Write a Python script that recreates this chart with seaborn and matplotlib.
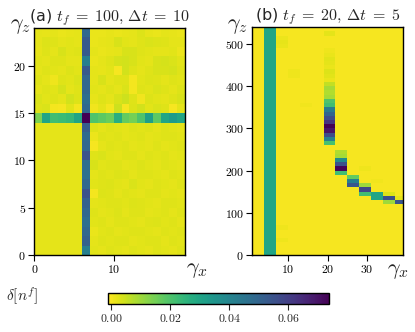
"""Density deviation maps for two quench protocols, shared colour bar."""
import matplotlib
matplotlib.use("Agg")
import matplotlib.pyplot as plt
import numpy as np
import seaborn as sns

sns.set_style("ticks")
plt.rcParams.update({
    "font.family": ["DejaVu Sans"],
    "mathtext.fontset": "cm",
    "axes.edgecolor": "black",
})

VMIN, VMAX = -0.001, 0.074

# panel (a): cells gamma_x = 0..18, gamma_z = 0..23, values in 1e-3, top row first
A_ROWS_TOP_FIRST = [
    [2.0, 1.8, 2.2, 1.6, 1.8, 2.0, 49, 1.6, 1.4, 1.8, 1.6, 1.8, 2.2, 3.0, 1.8, 1.6, 2.0, 1.8, 1.6],
    [2.2, 3.0, 2.6, 2.0, 2.4, 2.0, 53, 1.6, 1.8, 2.2, 3.4, 2.4, 2.0, 2.6, 3.2, 3.0, 2.8, 2.0, 2.2],
    [1.8, 2.6, 2.2, 3.6, 2.4, 2.6, 53, 2.0, 1.4, 1.8, 2.2, 3.4, 3.6, 2.6, 2.4, 2.2, 2.0, 2.4, 1.2],
    [2.4, 2.2, 2.8, 2.6, 2.0, 2.2, 42, 1.6, 2.0, 2.6, 3.8, 4.2, 3.6, 2.4, 2.0, 3.4, 3.8, 3.2, 2.4],
    [2.0, 2.6, 2.4, 2.2, 3.0, 2.4, 53, 2.2, 1.8, 2.4, 0.0, 4.0, 2.6, 2.2, 2.8, 3.6, 3.4, 3.8, 2.6],
    [2.6, 2.2, 1.0, 2.6, 2.4, 3.2, 49, 2.0, 3.4, 2.2, 2.6, 2.8, 0.2, 2.4, 3.0, 2.6, 2.2, 2.8, 2.4],
    [2.2, 2.8, 2.4, 3.8, 2.2, 2.6, 49, 2.4, 2.0, 2.6, 2.2, 3.2, 0.4, 2.6, 2.4, 3.2, 2.6, 2.2, 3.0],
    [3.2, 2.4, 2.8, 2.2, 4.2, 3.0, 47, 1.8, 2.6, 2.2, 3.6, 4.8, 2.8, 0.6, 3.0, 2.4, 2.0, 2.8, 3.6],
    [2.6, 3.2, 0.2, 0.0, 2.4, 0.4, 49, 0.6, 2.2, 0.2, 4.6, 0.0, 3.0, 4.0, 2.4, 3.2, 2.6, 0.0, 2.2],
    [14, 30, 22, 23, 24, 30, 74, 20, 18, 16, 27, 17, 15, 20, 32, 18, 30, 33, 30],
    [2.2, 2.2, 2.2, 2.2, 2.2, 2.2, 52, 2.6, 2.2, 2.8, 2.4, 2.2, 2.6, 2.4, 2.8, 2.2, 2.6, 2.4, 2.2],
    [2.2, 2.2, 2.2, 2.2, 2.2, 2.2, 48, 1.2, 2.6, 2.4, 2.8, 2.2, 2.4, 2.6, 2.2, 2.4, 2.8, 2.6, 2.4],
    [2.2, 2.2, 2.2, 2.2, 2.2, 2.2, 49, 0.0, 2.2, 2.6, 2.4, 2.8, 2.2, 2.4, 2.2, 2.6, 2.2, 2.4, 2.6],
    [2.2, 2.2, 2.2, 2.2, 2.2, 2.2, 55, 2.6, 3.2, 2.4, 2.2, 2.6, 2.8, 2.2, 2.6, 2.4, 2.8, 2.2, 2.4],
    [2.2, 2.2, 2.2, 2.2, 2.2, 2.2, 47, 3.4, 2.4, 2.8, 2.6, 2.2, 2.4, 3.0, 2.4, 2.2, 2.6, 2.4, 2.2],
    [2.2, 2.2, 2.2, 2.2, 2.2, 2.2, 46, 2.2, 2.8, 2.4, 3.0, 2.6, 2.2, 2.6, 2.8, 2.4, 2.2, 2.8, 2.4],
    [2.2, 2.2, 2.2, 2.2, 2.2, 2.2, 49, 2.4, 2.6, 3.0, 2.4, 2.2, 3.2, 2.4, 2.2, 2.6, 2.4, 2.2, 2.6],
    [2.2, 2.2, 2.2, 2.2, 2.2, 2.2, 55, 0.2, 3.0, 2.6, 2.2, 2.8, 2.4, 2.2, 2.6, 2.8, 2.2, 2.4, 2.2],
    [2.2, 2.2, 2.2, 2.2, 2.2, 2.2, 51, 2.2, 2.4, 2.8, 2.6, 2.4, 3.0, 2.6, 2.4, 2.2, 2.6, 2.8, 2.4],
    [2.2, 2.2, 2.2, 2.2, 2.2, 2.2, 49, 2.6, 2.2, 2.4, 3.0, 2.2, 2.6, 2.8, 2.2, 2.4, 2.8, 2.2, 2.6],
    [2.2, 2.2, 2.2, 2.2, 2.2, 2.2, 47, 2.4, 2.8, 2.2, 2.6, 2.8, 2.4, 2.2, 2.6, 3.0, 2.4, 2.6, 2.2],
    [2.2, 2.2, 2.2, 2.2, 2.2, 2.2, 49, 1.6, 2.4, 2.6, 2.2, 2.4, 2.8, 2.6, 2.4, 2.2, 2.6, 2.4, 2.8],
    [2.2, 2.2, 2.2, 2.2, 2.2, 2.2, 51, 2.2, 2.6, 2.4, 2.8, 2.6, 2.2, 2.4, 2.8, 2.6, 2.2, 2.8, 2.4],
    [2.2, 2.2, 2.2, 2.2, 2.2, 2.2, 42, 2.4, 2.2, 2.8, 2.4, 2.2, 2.6, 2.4, 2.2, 2.8, 2.4, 2.2, 2.6],
]
A_XTICKS = [0, 10]
A_YTICKS = [0, 5, 10, 15, 20]

# panel (b): gamma_x columns start at 1, 4, ..., 37 (width 3); gamma_z rows of 10 up to 540
B_X0, B_DX, B_NCOL = 1, 3, 13
B_DZ, B_NROW = 10, 54
B_XMAX = 39
B_BACKGROUND = 0.1
B_BAND_COL, B_BAND_VALUE = 1, 30
# individual cells: column index, gamma_z of the cell bottom, value (1e-3)
B_CELL_COL = [6, 6, 6, 6, 6, 6, 6, 6, 6, 6, 6, 6, 6, 6, 6, 6, 6, 6, 6, 6, 6, 6, 6, 6,
              7, 7, 7, 7, 7, 7, 8, 8, 8, 9, 9, 9, 10, 10, 11, 11, 11, 12, 12,
              2, 2, 2, 3, 3, 4, 2, 2, 9, 10]
B_CELL_GZ = [260, 270, 280, 290, 300, 310, 320, 330, 340, 350, 360, 370, 380, 390, 400,
             410, 420, 430, 440, 450, 460, 470, 480, 520,
             190, 200, 210, 220, 230, 240, 180, 170, 160, 160, 150, 140, 140, 130,
             140, 130, 120, 130, 120,
             490, 500, 510, 420, 430, 350, 30, 60, 200, 170]
B_CELL_VAL = [21, 42, 57, 70, 74, 63, 57, 50, 43, 22, 20, 9, 8, 9, 6,
              1.5, 2.5, 3.0, 1.5, 2.0, 2.5, 1.5, 0.8, 2.0,
              22, 73, 55, 38, 9, 8, 17, 42, 54, 10, 58, 22, 30, 30,
              3.0, 56, 10, 2.0, 54,
              1.5, 1.8, 1.2, 0.8, 0.8, 0.6, 0.8, 0.8, 0.8, 0.6]
B_XTICKS = [10, 20, 30]
B_YTICKS = [0, 100, 200, 300, 400, 500]

CBAR_TICKS = [0.00, 0.02, 0.04, 0.06]

grid_a = np.array(A_ROWS_TOP_FIRST[::-1]) / 1000.0

grid_b = np.full((B_NROW, B_NCOL), B_BACKGROUND)
grid_b[:, B_BAND_COL] = B_BAND_VALUE
for c, gz, v in zip(B_CELL_COL, B_CELL_GZ, B_CELL_VAL):
    grid_b[gz // B_DZ, c] = v
grid_b = grid_b / 1000.0

fig = plt.figure(figsize=(4.15, 3.32), dpi=100)
ax_a = fig.add_axes([0.0827, 0.232, 0.363, 0.684])
ax_b = fig.add_axes([0.608, 0.232, 0.3624, 0.686])
cax = fig.add_axes([0.261, 0.0843, 0.5325, 0.0331])

for ax, grid in [(ax_a, grid_a), (ax_b, grid_b)]:
    sns.heatmap(grid, ax=ax, cmap="viridis_r", vmin=VMIN, vmax=VMAX,
                cbar=False, xticklabels=False, yticklabels=False)
    for sp in ax.spines.values():
        sp.set_visible(True)
        sp.set_linewidth(1.0)
        sp.set_color("black")
    ax.tick_params(direction="out", length=4, width=0.8, labelsize=8.5,
                   pad=2, colors="black")

# panel (a)
ax_a.set_xlim(0, grid_a.shape[1])
ax_a.set_ylim(0, grid_a.shape[0])
ax_a.set_xticks(A_XTICKS)
ax_a.set_xticklabels([f"${t}$" for t in A_XTICKS])
ax_a.set_yticks(A_YTICKS)
ax_a.set_yticklabels([f"${t}$" for t in A_YTICKS], rotation=0)
ax_a.set_title(r"(a) $t_f\;=\;100,\,\Delta t\;=\;10$", fontsize=11.5, pad=4)

# panel (b): map gamma values onto heatmap cell coordinates
ax_b.set_xlim(0, (B_XMAX - B_X0) / B_DX)
ax_b.set_ylim(0, B_NROW)
ax_b.set_xticks([(t - B_X0) / B_DX for t in B_XTICKS])
ax_b.set_xticklabels([f"${t}$" for t in B_XTICKS])
ax_b.set_yticks([t / B_DZ for t in B_YTICKS])
ax_b.set_yticklabels([f"${t}$" for t in B_YTICKS], rotation=0)
ax_b.set_title(r"(b) $t_f\;=\;20,\,\Delta t\;=\;5$", fontsize=11.5, pad=4)

W, H = 415.0, 332.0
for x, y, s in [(20, 26, r"$\gamma_z$"), (237.5, 26, r"$\gamma_z$"),
                (196.5, 270, r"$\gamma_x$"), (397.5, 271, r"$\gamma_x$")]:
    fig.text(x / W, 1 - y / H, s, ha="center", va="center", fontsize=16)

cb = fig.colorbar(ax_a.collections[0], cax=cax, orientation="horizontal")
cb.set_ticks(CBAR_TICKS)
cb.set_ticklabels([f"${t:.2f}$" for t in CBAR_TICKS])
cb.outline.set_linewidth(1.0)
cb.outline.set_edgecolor("black")
cax.tick_params(direction="out", length=4, width=0.8, labelsize=8.5, pad=2)
fig.text(22 / W, 1 - 296 / H, r"$\delta[n^f]$", ha="center", va="center", fontsize=11)

fig.savefig("out.png", dpi=100)
plt.close(fig)
